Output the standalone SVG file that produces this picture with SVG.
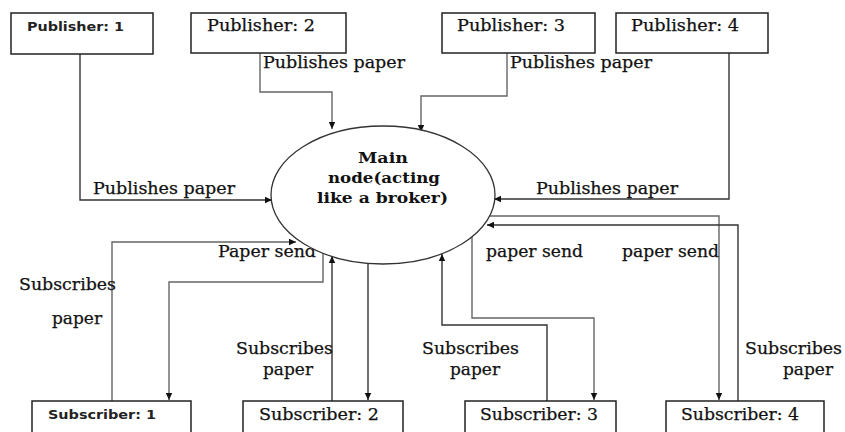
<svg xmlns="http://www.w3.org/2000/svg" width="845" height="432" viewBox="0 0 845 432">
<style>
.box{fill:#fff;stroke:#222;stroke-width:1.5}
.sans{font-family:"DejaVu Sans","Liberation Sans",sans-serif;font-weight:bold;font-size:11.5px;fill:#222}
.serif{font-family:"DejaVu Serif","Liberation Serif",serif;font-size:16px;fill:#111;stroke:#111;stroke-width:0.25}
.main{font-family:"DejaVu Serif","Liberation Serif",serif;font-size:15.5px;font-weight:bold;fill:#111}
.c{fill:none;stroke:#333;stroke-width:1.4;marker-end:url(#ah)}
.cg{fill:none;stroke:#666;stroke-width:1.4;marker-end:url(#ah)}
</style>
<defs>
<marker id="ah" markerWidth="8" markerHeight="8" refX="7" refY="4" orient="auto" markerUnits="userSpaceOnUse">
<path d="M0,0.8 L7,4 L0,7.2 Z" fill="#111"/>
</marker>
</defs>
<rect width="845" height="432" fill="#fff"/>

<g id="connectors">
<path class="c" d="M80,54 V200 H272"/>
<path class="cg" d="M260,53 V92 H332 V129"/>
<path class="cg" d="M507,53 V96 H421 V132"/>
<path class="c" d="M729,53 V199 H494"/>
<path class="cg" d="M488,216 H719 V400"/>
<path class="c" d="M738,401 V225 H487"/>
<path class="cg" d="M472,237 V318 H594 V400"/>
<path class="c" d="M547,401 V325 H442 V254"/>
<path class="c" d="M368,263 V400"/>
<path class="c" d="M332,401 V256"/>
<path class="cg" d="M323,252 V282 H169 V400"/>
<path class="cg" d="M112,401 V242 H296"/>
</g>

<g id="labels">
<text class="serif" x="263" y="68" textLength="142" lengthAdjust="spacingAndGlyphs">Publishes paper</text>
<text class="serif" x="510" y="68" textLength="142" lengthAdjust="spacingAndGlyphs">Publishes paper</text>
<text class="serif" x="93" y="194" textLength="142" lengthAdjust="spacingAndGlyphs">Publishes paper</text>
<text class="serif" x="536" y="194" textLength="142" lengthAdjust="spacingAndGlyphs">Publishes paper</text>
<text class="serif" x="218" y="257" textLength="98" lengthAdjust="spacingAndGlyphs">Paper send</text>
<text class="serif" x="486" y="257" textLength="97" lengthAdjust="spacingAndGlyphs">paper send</text>
<text class="serif" x="622" y="257" textLength="97" lengthAdjust="spacingAndGlyphs">paper send</text>
<text class="serif" x="19" y="290" textLength="97" lengthAdjust="spacingAndGlyphs">Subscribes</text>
<text class="serif" x="52" y="324" textLength="50" lengthAdjust="spacingAndGlyphs">paper</text>
<text class="serif" x="236" y="354" textLength="97" lengthAdjust="spacingAndGlyphs">Subscribes</text>
<text class="serif" x="263" y="375" textLength="50" lengthAdjust="spacingAndGlyphs">paper</text>
<text class="serif" x="422" y="354" textLength="97" lengthAdjust="spacingAndGlyphs">Subscribes</text>
<text class="serif" x="450" y="375" textLength="50" lengthAdjust="spacingAndGlyphs">paper</text>
<text class="serif" x="745" y="354" textLength="97" lengthAdjust="spacingAndGlyphs">Subscribes</text>
<text class="serif" x="783" y="375" textLength="50" lengthAdjust="spacingAndGlyphs">paper</text>
</g>

<g id="main-node">
<ellipse cx="383" cy="195" rx="112" ry="69" fill="#fff" stroke="#333" stroke-width="1.3"/>
<text class="main" x="358" y="163" textLength="50" lengthAdjust="spacingAndGlyphs">Main</text>
<text class="main" x="328" y="183" textLength="112" lengthAdjust="spacingAndGlyphs">node(acting</text>
<text class="main" x="317" y="203" textLength="131" lengthAdjust="spacingAndGlyphs">like a broker)</text>
</g>

<g id="publisher-1">
<rect class="box" x="11" y="13" width="142" height="41"/>
<text class="sans" x="27" y="31" textLength="97" lengthAdjust="spacingAndGlyphs">Publisher: 1</text>
</g>
<g id="publisher-2">
<rect class="box" x="191" y="13" width="155" height="40"/>
<text class="serif" x="207" y="31" textLength="108" lengthAdjust="spacingAndGlyphs">Publisher: 2</text>
</g>
<g id="publisher-3">
<rect class="box" x="442" y="13" width="153" height="40"/>
<text class="serif" x="457" y="31" textLength="108" lengthAdjust="spacingAndGlyphs">Publisher: 3</text>
</g>
<g id="publisher-4">
<rect class="box" x="616" y="13" width="152" height="40"/>
<text class="serif" x="631" y="31" textLength="108" lengthAdjust="spacingAndGlyphs">Publisher: 4</text>
</g>

<g id="subscriber-1">
<rect class="box" x="32" y="401" width="159" height="45"/>
<text class="sans" x="48" y="419" textLength="108" lengthAdjust="spacingAndGlyphs">Subscriber: 1</text>
</g>
<g id="subscriber-2">
<rect class="box" x="243" y="401" width="160" height="45"/>
<text class="serif" x="259" y="420" textLength="120" lengthAdjust="spacingAndGlyphs">Subscriber: 2</text>
</g>
<g id="subscriber-3">
<rect class="box" x="465" y="401" width="151" height="45"/>
<text class="serif" x="480" y="420" textLength="118" lengthAdjust="spacingAndGlyphs">Subscriber: 3</text>
</g>
<g id="subscriber-4">
<rect class="box" x="666" y="401" width="158" height="45"/>
<text class="serif" x="681" y="420" textLength="118" lengthAdjust="spacingAndGlyphs">Subscriber: 4</text>
</g>
</svg>
